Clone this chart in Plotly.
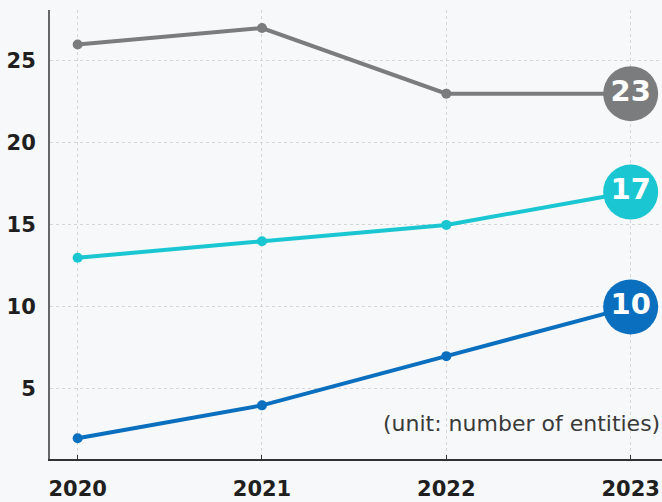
import plotly.graph_objects as go

years = [2020, 2021, 2022, 2023]
series_gray = [26, 27, 23, 23]
series_cyan = [13, 14, 15, 17]
series_blue = [2, 4, 7, 10]
colors = ["#7b7c7e", "#19c6d2", "#0a6fbe"]
y_ticks = [5, 10, 15, 20, 25]

fig = go.Figure()

for vals, col in zip([series_gray, series_cyan, series_blue], colors):
    fig.add_trace(go.Scatter(
        x=years, y=vals, mode="lines+markers",
        line=dict(color=col, width=4),
        marker=dict(color=col, size=10),
        hoverinfo="skip", showlegend=False, cliponaxis=False,
    ))
    # end-of-line value badge
    fig.add_trace(go.Scatter(
        x=[years[-1]], y=[vals[-1]], mode="markers+text",
        marker=dict(color=col, size=55, line=dict(width=0)),
        text=[str(vals[-1])], textposition="middle center",
        textfont=dict(color="white", size=29, family="DejaVu Sans", weight=800),
        hoverinfo="skip", showlegend=False, cliponaxis=False,
    ))

# unit note just below the 5 gridline
fig.add_annotation(
    x=1, xref="paper", y=2.87, yref="y",
    text="(unit: number of entities)", showarrow=False,
    xanchor="right", yanchor="middle",
    font=dict(size=22, color="#3a3a3a", family="DejaVu Sans"),
)

fig.update_layout(
    width=662, height=502,
    margin=dict(l=50, r=0, t=10, b=43),
    paper_bgcolor="#f6f8f9",
    plot_bgcolor="rgba(0,0,0,0)",
    xaxis=dict(
        range=[2019.85, 2023.17], tickvals=years,
        ticktext=[str(y) for y in years],
        showgrid=True, gridcolor="#d4d6d8", griddash="dot", gridwidth=1,
        showline=True, linecolor="#333333", linewidth=2,
        ticks="inside", ticklen=4, tickcolor="#333333",
        ticklabelstandoff=10,
        tickfont=dict(size=21, color="#1f1f1f", family="DejaVu Sans", weight="bold"),
        zeroline=False,
    ),
    yaxis=dict(
        range=[0.73, 28.1], tickvals=y_ticks,
        showgrid=True, gridcolor="#d4d6d8", griddash="dot", gridwidth=1,
        showline=True, linecolor="#666666", linewidth=2,
        ticks="", ticklabelstandoff=8,
        tickfont=dict(size=21, color="#1f1f1f", family="DejaVu Sans", weight=600),
        zeroline=False,
    ),
)

fig.write_html("out.html")
